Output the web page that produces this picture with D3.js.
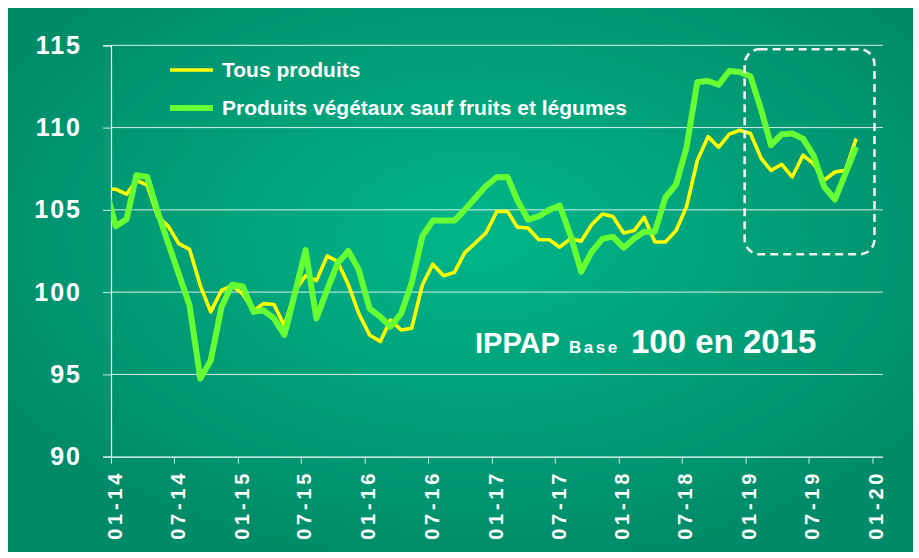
<!DOCTYPE html>
<html><head><meta charset="utf-8">
<script src="https://cdn.jsdelivr.net/npm/d3@7"></script>
<style>
html,body{margin:0;padding:0;background:#fff;}
svg{display:block;font-family:"Liberation Sans",Arial,sans-serif;}
</style></head>
<body>
<svg id="chart" width="919" height="558"></svg>
<script>
// ---- data (monthly, Dec 2013 .. Nov 2019) ----
const startMonth = "2013-12";
const tousProduits = [106.25,
 106.25,105.95,106.8,106.5,104.6,104.0,102.95,102.6,100.4,98.8,100.1,100.4,
 99.9,98.85,99.3,99.25,97.95,100.1,101.0,100.7,102.2,101.85,100.45,98.7,
 97.4,97.0,98.3,97.7,97.8,100.45,101.7,101.0,101.2,102.4,103.0,103.6,
 104.9,104.9,103.95,103.9,103.2,103.18,102.73,103.25,103.1,104.1,104.75,104.6,
 103.6,103.75,104.55,103.05,103.05,103.75,105.2,108.0,109.45,108.8,109.6,109.84,
 109.64,108.12,107.4,107.77,107.0,108.32,107.81,106.8,107.3,107.4,109.33];
const vegetaux = [106.4,
 104.0,104.45,107.1,107.0,104.9,102.95,101.1,99.2,94.75,95.85,99.1,100.45,
 100.35,98.8,98.9,98.4,97.4,100.0,102.55,98.4,100.15,101.75,102.5,101.35,
 99.0,98.5,97.9,98.7,100.55,103.4,104.35,104.35,104.35,105.0,105.75,106.45,
 106.98,107.0,105.6,104.4,104.6,105.0,105.26,103.45,101.25,102.45,103.24,103.37,
 102.7,103.27,103.67,103.67,105.75,106.55,108.8,112.77,112.83,112.6,113.44,113.38,
 113.12,111.05,108.93,109.6,109.64,109.33,108.32,106.4,105.63,107.2,108.83];
const seriesNames = ["Tous produits","Produits végétaux sauf fruits et légumes"];
const yTicks = [90,95,100,105,110,115];
const xTickLabels = ["01-14","07-14","01-15","07-15","01-16","07-16","01-17","07-17","01-18","07-18","01-19","07-19","01-20"];
const annotation = {main:"IPPAP", sub:"Base", rest:"100 en 2015"};
const highlightFrom = "2019-01", highlightTo = "2019-12";

// ---- build ----
const parseM = d3.timeParse("%Y-%m");
const parseTick = d3.timeParse("%m-%y");
const s0 = parseM(startMonth);
const dateOf = i => { const d = d3.timeMonth.offset(s0, i); d.setDate(15); return d; };

const svg = d3.select("#chart");
const M = {left:111, right:883, top:45.3, bottom:456.7};

const defs = svg.append("defs");
const rg = defs.append("radialGradient").attr("id","bg")
  .attr("cx","52%").attr("cy","42%").attr("r","62%");
rg.append("stop").attr("offset","0%").attr("stop-color","#00b68a");
rg.append("stop").attr("offset","100%").attr("stop-color","#008a67");
defs.append("clipPath").attr("id","plotclip").append("rect")
  .attr("x",M.left).attr("y",M.top-20).attr("width",M.right-M.left).attr("height",M.bottom-M.top+20);

svg.append("rect").attr("x",8).attr("y",8).attr("width",905).attr("height",544).attr("fill","url(#bg)");

const x = d3.scaleTime().domain([parseTick("01-14"), parseTick("01-20")]).range([M.left, 872.5]);
const y = d3.scaleLinear().domain([90,115]).range([M.bottom, M.top]);

// gridlines
svg.append("g").selectAll("line").data(yTicks.filter(v=>v>90)).join("line")
  .attr("x1",M.left).attr("x2",M.right).attr("y1",d=>y(d)).attr("y2",d=>y(d))
  .attr("stroke","#ffffff").attr("stroke-opacity",0.85).attr("stroke-width",1);

// y axis
const ya = svg.append("g").attr("transform",`translate(${M.left},0)`)
  .call(d3.axisLeft(y).tickValues(yTicks).tickSize(8).tickPadding(21));
ya.select(".domain").attr("stroke","#fff").attr("stroke-width",1.2);
ya.selectAll(".tick line").attr("stroke","#cfeee4");
ya.selectAll("text").attr("fill","#fff").attr("font-size",25).attr("font-weight","bold")
  .attr("letter-spacing","2px")
  .attr("font-family","'Liberation Sans',Arial,sans-serif");

// x axis
const xa = svg.append("g").attr("transform",`translate(0,${M.bottom})`)
  .call(d3.axisBottom(x).tickValues(xTickLabels.map(parseTick)).tickFormat(d3.timeFormat("%m-%y")).tickSize(7).tickSizeOuter(0));
xa.select(".domain").attr("stroke","#fff").attr("stroke-width",1.2).attr("d",`M${M.left},0.5H${M.right}`);
xa.selectAll(".tick line").attr("stroke","#cfeee4");
xa.selectAll("text").attr("fill","#fff").attr("font-size",20).attr("font-weight","bold")
  .attr("font-family","'Liberation Sans',Arial,sans-serif")
  .attr("letter-spacing","3.8px")
  .attr("text-anchor","end").attr("dy","0.36em")
  .attr("transform","translate(3,13) rotate(-90)").attr("x",0).attr("y",0);

// lines
const line = d3.line().x((d,i)=>x(dateOf(i))).y(d=>y(d));
const gl = svg.append("g").attr("clip-path","url(#plotclip)");
gl.append("path").datum(tousProduits).attr("d",line).attr("fill","none")
  .attr("stroke","#ffff00").attr("stroke-width",3.6).attr("stroke-linejoin","round");
gl.append("path").datum(vegetaux).attr("d",line).attr("fill","none")
  .attr("stroke","#66ff33").attr("stroke-width",6).attr("stroke-linejoin","round");

// legend
const leg = svg.append("g");
const legItems = [{name:seriesNames[0],color:"#ffff00",w:3.6,y:70},{name:seriesNames[1],color:"#66ff33",w:6,y:108}];
legItems.forEach(it=>{
  leg.append("line").attr("x1",170).attr("x2",213).attr("y1",it.y).attr("y2",it.y)
    .attr("stroke",it.color).attr("stroke-width",it.w);
  leg.append("text").attr("x",222).attr("y",it.y+7).text(it.name)
    .attr("fill","#fff").attr("font-size",21).attr("font-weight","bold");
});

// highlight dashed box
const bx0 = x(parseM(highlightFrom)) - 1, bx1 = x(d3.timeMonth.offset(parseM(highlightTo),1)) + 2;
svg.append("rect").attr("x",bx0).attr("y",y(115)+4).attr("width",bx1-bx0).attr("height",y(102.3)-y(115)-4)
  .attr("rx",15).attr("fill","none").attr("stroke","#f0f0f0").attr("stroke-width",2.6)
  .attr("stroke-dasharray","8,5");

// annotation
svg.append("text").attr("x",475).attr("y",353).attr("fill","#fff").attr("font-weight","bold")
  .attr("font-size",29).text(annotation.main);
svg.append("text").attr("x",569).attr("y",353).attr("fill","#fff").attr("font-weight","bold")
  .attr("font-size",17).attr("letter-spacing","2.5px").text(annotation.sub);
svg.append("text").attr("x",631).attr("y",353).attr("fill","#fff").attr("font-weight","bold")
  .attr("font-size",33).text(annotation.rest);
</script>
</body></html>
